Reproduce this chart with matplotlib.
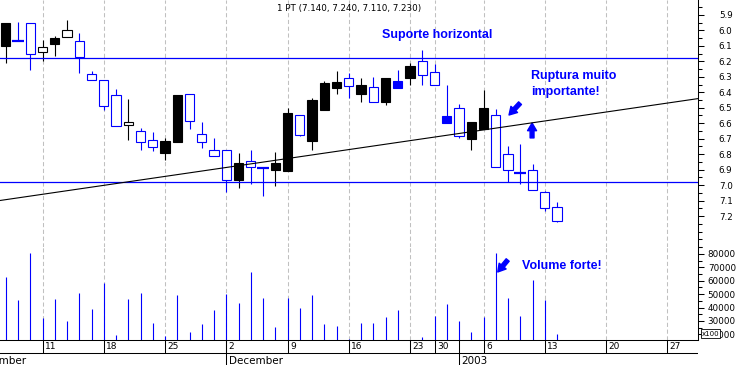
import matplotlib.pyplot as plt
from matplotlib.patches import Rectangle
import numpy as np
import pandas as pd

# --- dados (PT, Nov 2002 - Jan 2003) ---
dates = ['2002-11-06', '2002-11-07', '2002-11-08', '2002-11-11', '2002-11-12', '2002-11-13',
         '2002-11-14', '2002-11-15', '2002-11-18', '2002-11-19', '2002-11-20', '2002-11-21',
         '2002-11-22', '2002-11-25', '2002-11-26', '2002-11-27', '2002-11-28', '2002-11-29',
         '2002-12-02', '2002-12-03', '2002-12-04', '2002-12-05', '2002-12-06', '2002-12-09',
         '2002-12-10', '2002-12-11', '2002-12-12', '2002-12-13', '2002-12-16', '2002-12-17',
         '2002-12-18', '2002-12-19', '2002-12-20', '2002-12-23', '2002-12-27', '2002-12-30',
         '2002-12-31', '2003-01-02', '2003-01-03', '2003-01-06', '2003-01-07', '2003-01-08',
         '2003-01-09', '2003-01-10', '2003-01-13', '2003-01-14']
opens = [6.100, 6.070, 5.955, 6.110, 6.085, 6.000, 6.070, 6.280, 6.320, 6.420, 6.590, 6.650,
         6.710, 6.795, 6.720, 6.410, 6.670, 6.775,
         6.775, 6.970, 6.845, 6.890, 6.900, 6.910, 6.545, 6.715, 6.515, 6.375, 6.310, 6.410,
         6.365, 6.460, 6.375, 6.310, 6.195, 6.270, 6.600,
         6.500, 6.700, 6.640, 6.550, 6.800, 6.920, 6.900, 7.045, 7.140]
highs = [6.210, 6.070, 6.255, 6.200, 6.165, 6.040, 6.275, 6.320, 6.515, 6.620, 6.710, 6.775,
         6.780, 6.835, 6.720, 6.640, 6.760, 6.810,
         7.045, 7.020, 6.990, 7.070, 7.005, 6.910, 6.685, 6.770, 6.515, 6.410, 6.440, 6.460,
         6.460, 6.485, 6.375, 6.355, 6.355, 6.350, 6.600,
         6.695, 6.775, 6.640, 6.880, 6.980, 6.995, 7.030, 7.170, 7.240]
lows = [5.955, 5.945, 5.955, 6.060, 6.035, 5.930, 6.015, 6.265, 6.320, 6.380, 6.445, 6.630,
        6.660, 6.695, 6.420, 6.410, 6.595, 6.695,
        6.775, 6.795, 6.770, 6.890, 6.785, 6.500, 6.545, 6.440, 6.325, 6.265, 6.275, 6.310,
        6.300, 6.310, 6.255, 6.210, 6.125, 6.215, 6.355,
        6.475, 6.590, 6.385, 6.510, 6.750, 6.735, 6.865, 7.040, 7.110]
closes = [5.955, 6.070, 6.150, 6.140, 6.050, 6.040, 6.175, 6.320, 6.490, 6.620, 6.610, 6.720,
          6.755, 6.715, 6.420, 6.585, 6.720, 6.810,
          6.970, 6.860, 6.880, 6.890, 6.855, 6.535, 6.675, 6.450, 6.340, 6.335, 6.360, 6.355,
          6.460, 6.310, 6.325, 6.230, 6.290, 6.350, 6.555,
          6.680, 6.590, 6.500, 6.880, 6.900, 6.920, 7.030, 7.150, 7.230]
volumes = [63100, 45700, 81000, 32500, 46400, 30200, 51100, 39000, 58600, 19600, 46400, 51100,
           28700, 19000, 49600, 22000, 28000, 38400,
           50400, 43700, 66800, 47400, 25800, 47400, 39900, 49600, 28000, 26500, 16800, 28700,
           28700, 33000, 38200, 15000, 18300, 34000, 42700,
           30200, 21800, 33200, 81000, 47200, 33700, 60600, 45900, 20300]

support_levels = [6.178, 6.983]
trend_points = [('2002-11-06', 7.094), ('2003-01-14', 6.574)]

# calendario de dias uteis mostrado no eixo (antes e depois dos dados)
lead_days = ['2002-11-01', '2002-11-04', '2002-11-05']
future_start, future_end = '2003-01-15', '2003-01-31'

cal = pd.to_datetime(lead_days).append(pd.to_datetime(dates)).append(
    pd.bdate_range(future_start, future_end))
pos = {d: i for i, d in enumerate(cal)}
x = np.array([pos[pd.Timestamp(d)] for d in dates])

week_idx = [i for i in range(len(cal)) if i == 0 or cal[i].weekday() < cal[i - 1].weekday()]
month_idx = [i for i in range(len(cal)) if i == 0 or cal[i].month != cal[i - 1].month]

BLUE = '#0000ff'
GRID = '#c0c0c0'
W, H = 738, 365


def px_rect(x0, y0, x1, y1):
    return [x0 / W, 1 - y1 / H, (x1 - x0) / W, (y1 - y0) / H]


fig = plt.figure(figsize=(W / 100, H / 100), dpi=100)
ax = fig.add_axes(px_rect(0, 0, 698, 247))
axv = fig.add_axes(px_rect(0, 247, 698, 340))
axd = fig.add_axes(px_rect(0, 340, 698, 365))

# 12.25 px por dia, primeiro candle a 5.8 px
x0 = x[0] - 5.8 / 12.25
x1 = x[0] + (698 - 5.8) / 12.25
for a in (ax, axv, axd):
    a.set_xlim(x0, x1)

# grelha vertical (inicio de semana)
for wi in week_idx:
    ax.axvline(wi, color=GRID, lw=0.75, ls=(0, (4, 2.5)), zorder=0)
    axv.axvline(wi, color=GRID, lw=0.75, ls=(0, (4, 2.5)), zorder=0)

# candles
w = 0.76
for i in range(len(dates)):
    o, h, l, c = opens[i], highs[i], lows[i], closes[i]
    col = BLUE if i > 0 and c >= closes[i - 1] else 'black'
    ax.vlines(x[i], l, h, color=col, lw=0.8, zorder=2)
    if o == c:
        ax.hlines(c, x[i] - 0.48, x[i] + 0.48, color=col, lw=1.6, zorder=3)
    else:
        face = 'white' if c > o else col
        ax.add_patch(Rectangle((x[i] - w / 2, min(o, c)), w, abs(c - o),
                               facecolor=face, edgecolor=col, lw=0.8, zorder=3))

for lvl in support_levels:
    ax.axhline(lvl, color=BLUE, lw=0.9, zorder=4)
(ta, pa), (tb, pb) = trend_points
ax.axline((pos[pd.Timestamp(ta)], pa), (pos[pd.Timestamp(tb)], pb), color='black', lw=0.8, zorder=4)

ax.set_ylim(5.9 + 232 / 156, 5.9 - 15 / 156)  # escala invertida
ax.yaxis.tick_right()
majors = np.round(np.arange(5.9, 7.25, 0.1), 1)
ax.set_yticks(majors)
ax.set_yticklabels([f'{v:.1f}' for v in majors])
ax.set_yticks(np.round(np.arange(5.85, 7.4, 0.05), 2), minor=True)
ax.tick_params(axis='y', which='major', length=4.5, width=0.75, pad=10.5, labelsize=6.3)
ax.tick_params(axis='y', which='minor', length=3, width=0.75)
ax.set_xticks([])
for s in ('top', 'left', 'bottom'):
    ax.spines[s].set_visible(False)
ax.spines['right'].set_linewidth(0.75)

ax.text(0.5, 1 - 9 / 247, f'1 PT ({opens[-1]:.3f}, {highs[-1]:.3f}, {lows[-1]:.3f}, {closes[-1]:.3f})',
        transform=ax.transAxes, ha='center', va='center', fontsize=6.3)

# anotacoes
bold = dict(color=BLUE, fontsize=9, fontweight='bold', family='Liberation Sans', ha='left', va='center')
ax.text(x[0] + 30.7, 6.033, 'Suporte horizontal', **bold)
ax.text(x[0] + 42.85, 6.296, 'Ruptura muito', **bold)
ax.text(x[0] + 42.85, 6.398, 'importante!', **bold)
arrow = dict(arrowstyle='simple,head_length=0.55,head_width=0.65,tail_width=0.28',
             color=BLUE, shrinkA=0, shrinkB=0)
ax.annotate('', xy=(x[0] + 41.08, 6.547), xytext=(x[0] + 41.98, 6.4705), arrowprops=arrow)
ax.annotate('', xy=(x[0] + 42.96, 6.599), xytext=(x[0] + 42.96, 6.695), arrowprops=arrow)

# volume
axv.vlines(x, 0, volumes, color=BLUE, lw=0.8)
axv.set_ylim(15800, 85220)
axv.yaxis.tick_right()
vt = np.arange(20000, 80001, 10000)
axv.set_yticks(vt)
axv.set_yticklabels([str(v) for v in vt])
axv.set_yticks(np.arange(20000, 85001, 5000), minor=True)
axv.tick_params(axis='y', which='major', length=4.5, width=0.75, pad=2.5, labelsize=6.3)
axv.tick_params(axis='y', which='minor', length=3, width=0.75)
axv.set_xticks([])
for s in ('top', 'left'):
    axv.spines[s].set_visible(False)
axv.spines['right'].set_linewidth(0.75)
axv.spines['bottom'].set_linewidth(0.75)
axv.text(x[0] + 42.14, 71000, 'Volume forte!', **bold)
axv.annotate('', xy=(x[0] + 40.16, 66570), xytext=(x[0] + 40.97, 75520), arrowprops=arrow)

# caixa do multiplicador (tapa parte do rotulo 20000, como no original)
fig.text(710.5 / W, 1 - 333.5 / H, 'x100', fontsize=5, ha='center', va='center',
         bbox=dict(boxstyle='square,pad=0.15', fc='white', ec='black', lw=0.6))

# eixo das datas
axd.set_ylim(0, 1)
axd.axis('off')
mid = 12.3 / 25
off = 2.5 / 12.25
axd.axhline(mid, color='black', lw=0.75)
for wi in week_idx:
    axd.vlines(wi, mid, 1, color='black', lw=0.75)
    if wi > x0:
        axd.text(wi + off, 0.63, str(cal[wi].day), fontsize=6.5, ha='left', va='baseline')
for mi in month_idx:
    axd.vlines(mi, 0, 1, color='black', lw=0.75)
    lab = str(cal[mi].year) if cal[mi].month == 1 else cal[mi].strftime('%B')
    axd.text(mi + off, 0.03, lab, fontsize=7.5, ha='left', va='baseline')

fig.savefig('out.png', dpi=100)
